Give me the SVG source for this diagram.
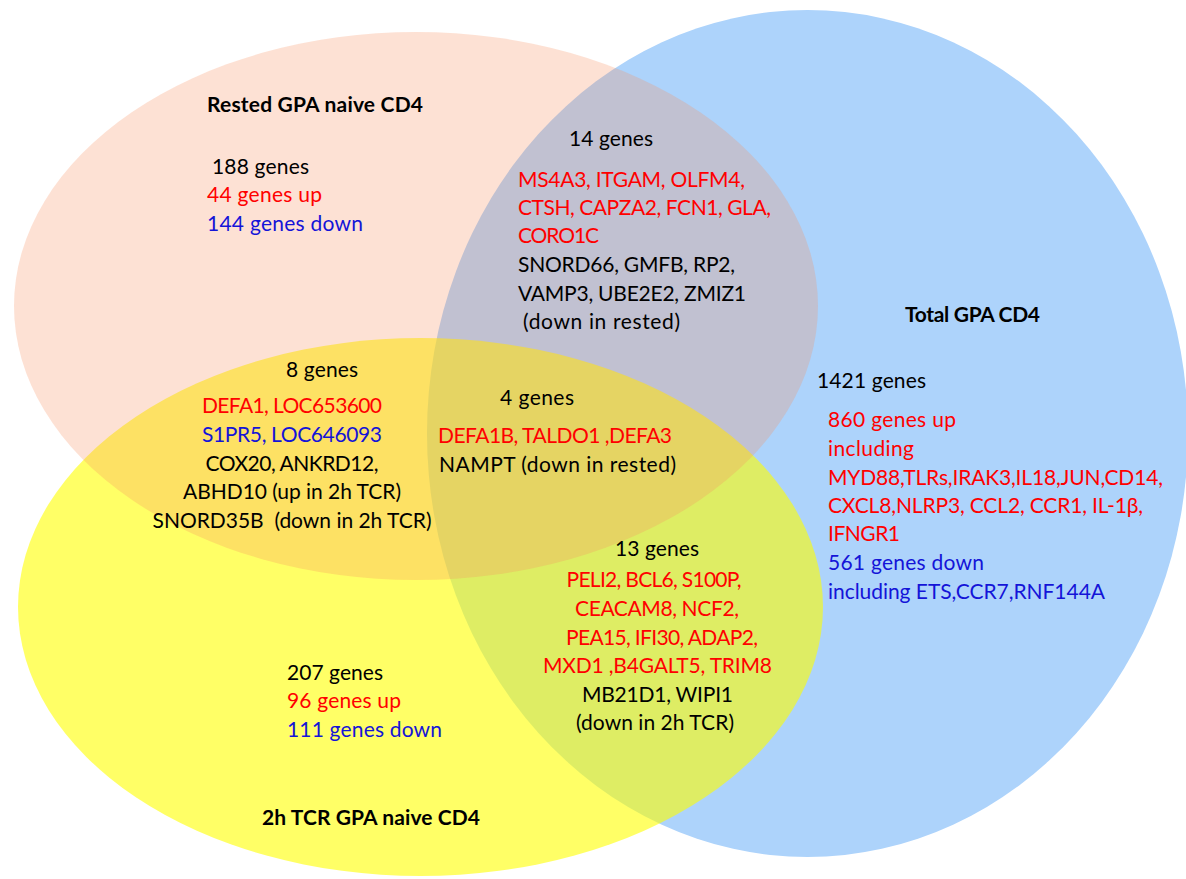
<svg xmlns="http://www.w3.org/2000/svg" width="1186" height="879" viewBox="0 0 1186 879">
<style>
text{font-family:Lato,"Open Sans","Liberation Sans",sans-serif;font-size:21px;fill:#000}
.t{font-weight:bold}
.r{fill:#ff0000}
.b{fill:#1414d8}
.m{text-anchor:middle}
</style>
<rect width="1186" height="879" fill="#ffffff"/>
<g id="total-gpa-cd4">
<ellipse cx="807.5" cy="433.5" rx="380.5" ry="423.5" fill="#add3fb"/>
</g>
<g id="tcr-gpa-naive-cd4">
<ellipse cx="420.5" cy="607" rx="402.5" ry="269" fill="#ffff00" fill-opacity="0.6"/>
</g>
<g id="rested-gpa-naive-cd4">
<ellipse cx="416" cy="306" rx="402" ry="274" fill="#f89060" fill-opacity="0.27"/>
</g>
<g id="connectors"/>
<g id="label-rested">
<text class="t" x="207" y="112" textLength="216">Rested GPA naive CD4</text>
<text x="212" y="174" textLength="97">188 genes</text>
<text class="r" x="207" y="202" textLength="115">44 genes up</text>
<text class="b" x="207" y="231" textLength="156">144 genes down</text>
</g>
<g id="label-rested-total">
<text x="569" y="146" textLength="84">14 genes</text>
<text class="r" x="518" y="187" textLength="227">MS4A3, ITGAM, OLFM4,</text>
<text class="r" x="518" y="215" textLength="253">CTSH, CAPZA2, FCN1, GLA,</text>
<text class="r" x="518" y="243" textLength="81">CORO1C</text>
<text x="518" y="272" textLength="217">SNORD66, GMFB, RP2,</text>
<text x="518" y="301" textLength="228">VAMP3, UBE2E2, ZMIZ1</text>
<text x="523" y="329" textLength="157">(down in rested)</text>
</g>
<g id="label-rested-tcr">
<text x="286" y="377" textLength="72">8 genes</text>
<text class="r m" x="292" y="413" textLength="180">DEFA1, LOC653600</text>
<text class="b m" x="292" y="442" textLength="180">S1PR5, LOC646093</text>
<text class="m" x="292" y="471" textLength="173">COX20, ANKRD12,</text>
<text class="m" x="292" y="499" textLength="218">ABHD10 (up in 2h TCR)</text>
<text class="m" x="292" y="528" textLength="279" xml:space="preserve">SNORD35B  (down in 2h TCR)</text>
</g>
<g id="label-all-three">
<text x="500" y="405" textLength="74">4 genes</text>
<text class="r" x="438" y="443" textLength="234">DEFA1B, TALDO1 ,DEFA3</text>
<text x="439" y="472" textLength="237">NAMPT (down in rested)</text>
</g>
<g id="label-tcr-total">
<text class="m" x="657" y="556" textLength="84">13 genes</text>
<text class="r m" x="654" y="587" textLength="175">PELI2, BCL6, S100P,</text>
<text class="r m" x="657" y="616" textLength="164">CEACAM8, NCF2,</text>
<text class="r m" x="662" y="645" textLength="192">PEA15, IFI30, ADAP2,</text>
<text class="r m" x="657.5" y="673" textLength="229">MXD1 ,B4GALT5, TRIM8</text>
<text class="m" x="657.5" y="702" textLength="151">MB21D1, WIPI1</text>
<text class="m" x="655" y="730" textLength="158">(down in 2h TCR)</text>
</g>
<g id="label-tcr">
<text x="287" y="680" textLength="96">207 genes</text>
<text class="r" x="287" y="708" textLength="114">96 genes up</text>
<text class="b" x="287" y="737" textLength="155">111 genes down</text>
<text class="t" x="262" y="825" textLength="218">2h TCR GPA naive CD4</text>
</g>
<g id="label-total">
<text class="t" x="905" y="322" textLength="135">Total GPA CD4</text>
<text x="817" y="388" textLength="109">1421 genes</text>
<text class="r" x="828" y="427" textLength="128">860 genes up</text>
<text class="r" x="828" y="456" textLength="86">including</text>
<text class="r" x="828" y="485" textLength="335">MYD88,TLRs,IRAK3,IL18,JUN,CD14,</text>
<text class="r" x="828" y="513" textLength="315">CXCL8,NLRP3, CCL2, CCR1, IL-1β,</text>
<text class="r" x="828" y="541" textLength="72">IFNGR1</text>
<text class="b" x="828" y="570" textLength="156">561 genes down</text>
<text class="b" x="828" y="599" textLength="277">including ETS,CCR7,RNF144A</text>
</g>
</svg>
